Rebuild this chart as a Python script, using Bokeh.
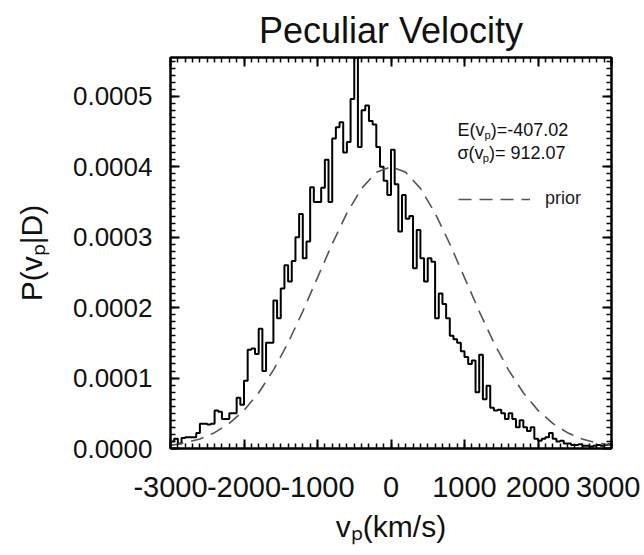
import numpy as np
from bokeh.plotting import figure
from bokeh.models import (Range1d, LinearAxis, SingleIntervalTicker, PrintfTickFormatter,
                          Label, Legend, LegendItem, Title)
from bokeh.embed import file_html
from bokeh.resources import INLINE

# ---------------- data ----------------
# histogram of P(v_p|D), bins of 50 km/s from -3000 to 3000 (values in units of 1e-5)
hist_e5 = [
    1.0, 1.4, 0.7, 1.5, 1.6, 1.6, 1.6, 2.2, 3.5, 3.5,
    3.4, 3.5, 5.4, 5.2, 4.2, 4.2, 5.0, 5.0, 7.2, 6.2,
    9.6, 14.0, 14.2, 13.4, 17.0, 11.0, 15.0, 15.0, 21.0, 18.5,
    22.7, 26.0, 23.7, 26.6, 30.0, 33.3, 27.0, 29.4, 37.1, 35.0,
    35.0, 37.0, 41.0, 35.0, 44.0, 45.6, 46.3, 42.0, 43.5, 49.6,
    55.5, 42.8, 48.0, 48.7, 46.5, 46.0, 42.8, 40.0, 38.0, 36.0,
    42.4, 37.5, 30.8, 36.0, 32.6, 33.0, 25.6, 31.0, 27.0, 23.7,
    27.0, 26.5, 18.5, 22.0, 20.5, 18.5, 16.0, 15.5, 15.0, 13.8,
    13.0, 12.0, 12.5, 8.0, 13.3, 7.0, 8.9, 5.8, 5.4, 5.5,
    5.0, 4.2, 5.0, 4.2, 3.0, 4.0, 3.0, 2.5, 3.0, 1.4,
    1.1, 1.4, 1.6, 2.2, 1.4, 1.0, 1.1, 0.7, 0.7, 0.5,
    0.5, 0.6, 0.4, 0.4, 0.3, 0.4, 0.5, 0.4, 0.5, 0.6,
]
v_min, v_max = -3000, 3000

# prior curve (values in units of 1e-5)
prior_v = [-3000, -2800, -2600, -2400, -2200, -2000, -1800, -1600, -1400, -1200, -1000,
           -800, -600, -400, -200, 0, 200, 400, 600, 800, 1000,
           1200, 1400, 1600, 1800, 2000, 2200, 2400, 2600, 2800, 3000]
prior_e5 = [0.44, 0.79, 1.36, 2.25, 3.56, 5.41, 7.92, 11.12, 15.01, 19.47, 24.26,
            29.04, 33.41, 36.92, 39.21, 40.0, 39.21, 36.92, 33.41, 29.04, 24.26,
            19.47, 15.01, 11.12, 7.92, 5.41, 3.56, 2.25, 1.36, 0.79, 0.44]

title_text = "Peculiar Velocity"
x_label = "vₚ(km/s)"
y_label = "P(vₚ|D)"
stat_mean = "-407.02"
stat_sigma = "912.07"

# ---------------- derived ----------------
hist = [h * 1e-5 for h in hist_e5]
edges = list(np.linspace(v_min, v_max, len(hist) + 1))
step_x = edges
step_y = hist + [hist[-1]]
prior_p = [q * 1e-5 for q in prior_e5]

FONT = "Liberation Sans"
W = {'v': .5, 'p': .556, '(': .333, ')': .333, 'k': .5, 'm': .833, '/': .278, 's': .5,
     'P': .667, '|': .26, 'D': .722, 'E': .667, '=': .584, '-': .333, '.': .278,
     ' ': .278, 'σ': .571}


def tw(s, size):
    return sum(W.get(c, .556) for c in s) * size


p = figure(width=640, height=555, output_backend="svg", toolbar_location=None,
           x_range=Range1d(v_min, v_max), y_range=Range1d(0, max(hist)),
           x_axis_location=None, y_axis_location=None)
p.min_border_left = 170
p.min_border_right = 29
p.min_border_top = 55
p.min_border_bottom = 107
p.grid.grid_line_color = None
p.outline_line_color = "black"
p.outline_line_width = 2
p.background_fill_color = "white"
p.border_fill_color = "white"

p.title = Title(text=title_text, align="center", text_font=FONT, text_font_size="36px",
                text_font_style="normal", text_color="#111111", standoff=14)


def make_axis(ticker, fmt, show, standoff=0, size="26px"):
    ax = LinearAxis(ticker=ticker, formatter=fmt)
    ax.axis_line_width = 2
    ax.axis_line_color = "black"
    ax.major_tick_in = 9
    ax.major_tick_out = 0
    ax.minor_tick_in = 5
    ax.minor_tick_out = 0
    ax.major_tick_line_width = 2
    ax.minor_tick_line_width = 1.5
    if show:
        ax.major_label_text_font = FONT
        ax.major_label_text_font_size = size
        ax.major_label_text_color = "#111111"
        ax.major_label_standoff = standoff
        ax.axis_label_text_font = FONT
        ax.axis_label_text_font_size = "30px"
        ax.axis_label_text_font_style = "normal"
        ax.axis_label_text_color = "#111111"
    else:
        ax.major_label_text_font_size = "0px"
        ax.major_label_text_color = None
        ax.major_label_standoff = 0
    return ax


xt = SingleIntervalTicker(interval=1000, num_minor_ticks=10)
yt = SingleIntervalTicker(interval=0.0001, num_minor_ticks=10)
xf = PrintfTickFormatter(format="%d")
yf = PrintfTickFormatter(format="%.4f")

xb = make_axis(xt, xf, True, 28, "29px")
xb.axis_label = x_label
xb.axis_label_standoff = 10
yl = make_axis(yt, yf, True, 18, "26px")
yl.axis_label = y_label
yl.axis_label_standoff = 22
p.add_layout(xb, "below")
p.add_layout(yl, "left")
p.add_layout(make_axis(xt, xf, False), "above")
p.add_layout(make_axis(yt, yf, False), "right")

# histogram
p.step(x=step_x, y=step_y, mode="after", line_color="black", line_width=2)

# prior
r_prior = p.line(prior_v, prior_p, line_dash="13 8", line_color="#555555", line_width=1.6)

legend = Legend(items=[LegendItem(label="prior", renderers=[r_prior])],
                location=(288, 239), glyph_width=72, glyph_height=20, label_standoff=15,
                label_text_font=FONT, label_text_font_size="18px", label_text_color="#222222",
                background_fill_alpha=0, border_line_color=None, padding=0, margin=0, spacing=0)
p.add_layout(legend, "center")


def rich(parts, x, y, size, color="#111111"):
    pos = 0.0
    for text, sub in parts:
        fs = size * 0.62 if sub else size
        off = size * 0.28 if sub else 0.0
        p.add_layout(Label(x=x + pos, y=y - off, x_units="screen", y_units="screen", text=text,
                           text_font=FONT, text_font_size=f"{fs:.1f}px",
                           text_baseline="alphabetic", text_align="left", text_color=color))
        pos += tw(text, fs)


# stats
rich([("E(v", False), ("p", True), (")=" + stat_mean, False)], 287, 319, 18)
rich([("σ(v", False), ("p", True), (")= " + stat_sigma, False)], 287, 296, 18)

open("out.html", "w").write(file_html(p, INLINE))
